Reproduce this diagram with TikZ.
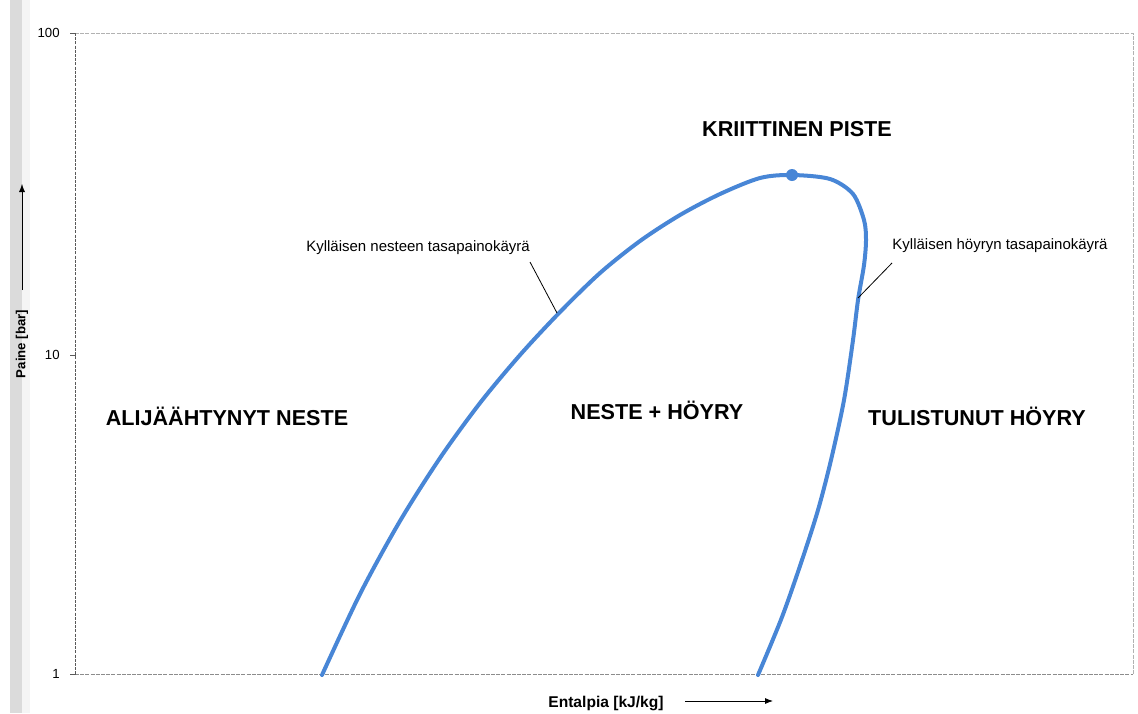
\documentclass[tikz,border=0pt]{standalone}
\usepackage{fontspec}
\setmainfont{Liberation Sans}
\usetikzlibrary{positioning,arrows.meta}
\definecolor{curveblue}{RGB}{72,134,214}

\begin{document}
\begin{tikzpicture}[
                    >=latex,
                x=0.5pt, y=-0.5pt,
                region/.style={font=\fontsize{10.8}{12}\selectfont\bfseries},
                curvelabel/.style={font=\fontsize{7.5}{9}\selectfont, inner sep=1pt},
                axislabel/.style={font=\fontsize{7.8}{9}\selectfont\bfseries, inner sep=1pt},
                ticklabel/.style={font=\fontsize{6.6}{8}\selectfont, anchor=east, inner sep=1pt}]

                \useasboundingbox (0,0) rectangle (1138,713);
                \fill[black!14] (10,0) rectangle (22,713);
                \fill[black!4] (22,0) rectangle (30,713);

                % frame of the plot
                \draw[black!65, dash pattern=on 1.5pt off 0.6pt] (75,33) -- (75,674);
                \draw[black!30, dash pattern=on 2pt off 0.6pt] (75,33) -- (1133,33) -- (1133,674);
                \draw[black!45, dash pattern=on 2pt off 0.6pt] (75,674) -- (1133,674);
                \foreach \y/\t in {33/100,355/10,674/1}
                {
                \draw[black!65] (70,\y) -- (76,\y);
                \draw(62,\y) node[ticklabel] (tick\t) {\t};
                }

                % axes
                \draw(22,344) node[axislabel, font=\fontsize{6.6}{8}\selectfont\bfseries, rotate=90] (ylab) {Paine [bar]};
                \coordinate (yarrS) at (22,290);
                \coordinate (yarrE) at (22,184);
                \draw[->, thin] (yarrS) -- (yarrE);
                \draw(606,703) node[axislabel] (xlab) {Entalpia [kJ/kg]};
                \coordinate (xarrS) at (685,701);
                \coordinate (xarrE) at (773,701);
                \draw[-{Latex[length=4pt,width=3pt]}, thin] (xarrS) -- (xarrE);

                % saturation curve
                \draw[curveblue, line width=2pt, line cap=round, line join=round]
                plot[smooth, tension=0.5] coordinates {(322,675) (360,594) (400,521) (440,458) (480,403)
                (520,355) (560,312) (600,273) (640,241) (680,215) (720,194) (760,178) (792,175)
                (830,179) (853,194) (864,220) (866,240) (864,265) (858,300) (853,340) (844,400)
                (831,460) (818,510) (802,560) (782,617) (758,675)};
                \fill[curveblue] (792,175) circle (6);
                \coordinate (cp) at (792,175);

                % regions
                \draw(797,129) node[region] (crit) {KRIITTINEN PISTE};
                \draw(227,416) node[region] (sub) {ALIJÄÄHTYNYT NESTE};
                \draw(657,410) node[region] (wet) {NESTE + HÖYRY};
                \draw(977,416) node[region] (sup) {TULISTUNUT HÖYRY};

                % curve labels
                \draw(418,248) node[curvelabel] (liq) {Kylläisen nesteen tasapainokäyrä};
                \draw(1000,246) node[curvelabel] (vap) {Kylläisen höyryn tasapainokäyrä};
                \coordinate (liqP) at (557,313);
                \coordinate (vapP) at (858,298);
                \draw[thin] (530,262) -- (liqP);
                \draw[thin] (892,263) -- (vapP);

            \end{tikzpicture}
\end{document}
